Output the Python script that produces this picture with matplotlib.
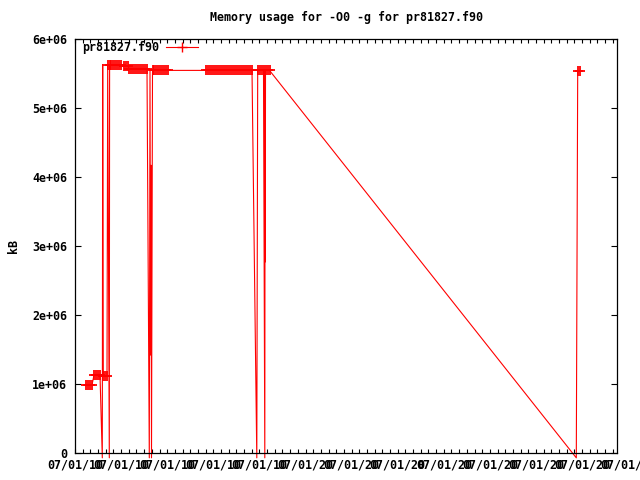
import numpy as np
import matplotlib
matplotlib.use("Agg")
import matplotlib.pyplot as plt
from matplotlib.lines import Line2D
from matplotlib.ticker import MultipleLocator

# elapsed time (s) and memory (kB)
times = [1.1, 1.3, 1.5, 1.7,
         1.9, 2.1, 2.3, 2.5,
         2.73, 2.77,
         2.83, 3.0, 3.2, 3.27,
         3.43,
         3.46, 3.6, 3.8, 4.0,
         4.2, 4.4, 4.6,
         4.9, 5.1, 5.3,
         5.4, 5.6, 5.8, 6.0, 6.2, 6.4, 6.6, 6.8, 7.0, 7.2,
         7.43, 7.5, 7.56, 7.6, 7.65,
         7.75, 7.9, 8.1, 8.3, 8.5, 8.7, 8.9, 9.1, 9.3,
         13.1, 13.3, 13.5, 13.7, 13.9, 14.1, 14.3, 14.5, 14.7, 14.9, 15.1, 15.3,
         15.5, 15.7, 15.9, 16.1, 16.3, 16.5, 16.7, 16.9, 17.1, 17.3, 17.5, 17.7,
         18.18,
         18.27, 18.45, 18.65, 18.85,
         18.98, 19.01, 19.03,
         19.05, 19.25, 19.45,
         50.13,
         50.27, 50.5]
memory = [985000] * 4 + \
         [1130000] * 4 + \
         [-70000, 5630000] + \
         [1115000] * 3 + [5630000] + \
         [-70000] + \
         [5630000] * 4 + \
         [5616000] * 3 + \
         [5609000] * 3 + \
         [5565000] * 10 + \
         [-70000, 5550000, 1420000, 4170000, -70000] + \
         [5545000] * 9 + \
         [5545000] * 24 + \
         [-70000] + \
         [5545000] * 4 + \
         [-70000, 5545000, 2770000] + \
         [5545000] * 3 + \
         [-70000] + \
         [5535000] * 2
marked = [1] * 8 + [0] * 2 + [1] * 4 + [0] + [1] * 20 + [0] * 5 + [1] * 33 + \
         [0] + [1] * 4 + [0] * 3 + [1] * 3 + [0] + [1] * 2

xtick_labels = ["07/01/10"] * 5 + ["07/01/20"] * 8
tick_step = 4.61

times = np.array(times)
memory = np.array(memory)
marked = np.array(marked, dtype=bool)

font = dict(family="DejaVu Sans Mono", weight="bold", size=8.4)

fig = plt.figure(figsize=(6.4, 4.8), dpi=100)
ax = fig.add_axes([75 / 640, 27 / 480, 542 / 640, 414 / 480])

ax.plot(times, memory, color="red", lw=0.8, clip_on=False)
ax.plot(times[marked], memory[marked], ls="none", marker="+", color="red",
        ms=6.5, mew=1.3, clip_on=False)

ax.set_xlim(0, 54.2)
ax.set_ylim(0, 6e6)
ax.set_yticks([0, 1e6, 2e6, 3e6, 4e6, 5e6, 6e6])
ax.set_yticklabels(["0", "1e+06", "2e+06", "3e+06", "4e+06", "5e+06", "6e+06"], **font)
ax.xaxis.set_major_locator(MultipleLocator(tick_step))
ax.xaxis.set_minor_locator(MultipleLocator(tick_step / 6))
ax.set_xticklabels([])
ax.tick_params(axis="x", which="both", direction="in", top=True, length=3, width=0.8)
ax.tick_params(axis="y", which="both", direction="in", right=True, length=4.5,
               width=0.8, pad=5.5)
for s in ax.spines.values():
    s.set_linewidth(0.9)

# gnuplot-style overlapping date labels
for k, lab in enumerate(xtick_labels):
    ax.annotate(lab, xy=(k * tick_step, 0), xycoords=("data", "axes fraction"),
                xytext=(0, -9), textcoords="offset points", ha="center", va="center",
                annotation_clip=False, **font)

fig.text(346 / 640, 1 - 18 / 480, "Memory usage for -O0 -g for pr81827.f90",
         ha="center", va="center", **font)
fig.text(14 / 640, 1 - 246 / 480, "kB", rotation=90, ha="center", va="center", **font)

handle = Line2D([], [], color="red", lw=0.8, marker="+", ms=6.5, mew=1.0)
ax.legend([handle], ["pr81827.f90"], loc="upper left", bbox_to_anchor=(7 / 542, 1 - 2 / 414),
          frameon=False, markerfirst=False, handlelength=2.75, handletextpad=0.6,
          borderpad=0, borderaxespad=0, prop=dict(family="DejaVu Sans Mono", weight="bold", size=8.4))

fig.savefig("out.png", dpi=100)
